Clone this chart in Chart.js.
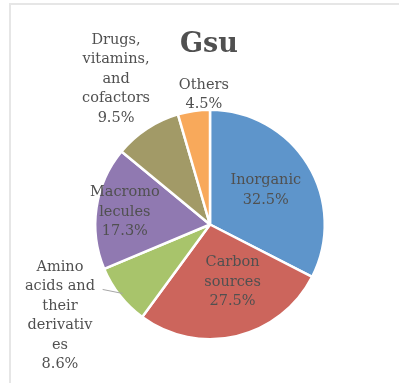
<!DOCTYPE html>
<html>
<head>
<meta charset="utf-8">
<script src="https://cdn.jsdelivr.net/npm/chart.js@4"></script>
<style>
  html, body { margin: 0; padding: 0; background: #fff; }
  canvas { display: block; }
</style>
</head>
<body>
<canvas id="graficoGsu" width="399" height="383"></canvas>
<script>
// data
const categories = ['Inorganic', 'Carbon sources', 'Amino acids and their derivatives', 'Macromolecules', 'Drugs, vitamins, and cofactors', 'Others'];
const shares = [32.5, 27.5, 8.6, 17.3, 9.5, 4.5];
const sliceColors = ['#5e95cb', '#cc655c', '#a8c46b', '#9079b1', '#a29a67', '#f8a95b'];

// how the data labels wrap and where they sit (r = fraction of radius, a = angle nudge in degrees)
const labelLines = [
    ['Inorganic'],
    ['Carbon', 'sources'],
    ['Amino', 'acids and', 'their', 'derivativ', 'es'],
    ['Macromo', 'lecules'],
    ['Drugs,', 'vitamins,', 'and', 'cofactors'],
    ['Others']
];
const labelPlace = [
    { r: 0.57, a: 0 },
    { r: 0.54, a: -8 },
    { r: 1.53, a: 7 },
    { r: 0.75, a: 0 },
    { r: 1.51, a: 0.5 },
    { r: 1.13, a: 5.4 }
];

const textColor = '#505050';
const labelFont = '14.5px "DejaVu Serif"';
const lineGap = 19.5;

const labelsPlugin = {
    id: 'pieLabels',
    beforeDraw(chart) {
        const ctx = chart.ctx;
        ctx.save();
        ctx.fillStyle = '#e6e6e6';
        ctx.fillRect(9, 3, 390, 2);
        ctx.fillRect(9, 3, 2, 380);
        ctx.restore();
    },
    afterDraw(chart) {
        const ctx = chart.ctx;
        const meta = chart.getDatasetMeta(0);
        ctx.save();

        // title
        ctx.fillStyle = textColor;
        ctx.font = 'bold 27px "DejaVu Serif"';
        ctx.textAlign = 'center';
        ctx.textBaseline = 'middle';
        ctx.fillText('Gsu', 209, 45);

        ctx.font = labelFont;
        meta.data.forEach((arc, i) => {
            const p = arc.getProps(['x', 'y', 'startAngle', 'endAngle', 'outerRadius'], true);
            const mid = (p.startAngle + p.endAngle) / 2;
            const ang = mid + labelPlace[i].a * Math.PI / 180;
            const dist = p.outerRadius * labelPlace[i].r;
            const cx = p.x + Math.cos(ang) * dist;
            const cy = p.y + Math.sin(ang) * dist;
            const lines = labelLines[i].concat([shares[i].toFixed(1) + '%']);
            const top = cy - (lines.length - 1) * lineGap / 2;

            if (i === 2) {
                // leader line for the label that sits away from its slice
                const sx = p.x + Math.cos(mid) * p.outerRadius * 0.97;
                const sy = p.y + Math.sin(mid) * p.outerRadius * 0.97;
                ctx.strokeStyle = '#a6a6a6';
                ctx.lineWidth = 1;
                ctx.beginPath();
                ctx.moveTo(sx, sy);
                ctx.lineTo(sx - 20, sy - 4);
                ctx.stroke();
            }

            ctx.fillStyle = textColor;
            lines.forEach((t, k) => {
                ctx.fillText(t, cx, top + k * lineGap);
            });
        });
        ctx.restore();
    }
};

const dataPie = {
    labels: categories,
    datasets: [{
        data: shares,
        backgroundColor: sliceColors,
        borderColor: '#ffffff',
        borderWidth: 2.5
    }]
};

const configPie = {
    type: 'pie',
    data: dataPie,
    options: {
        responsive: false,
        animation: false,
        layout: {
            padding: { left: 94, right: 73, top: 108, bottom: 42 }
        },
        plugins: {
            legend: { display: false },
            tooltip: { enabled: false },
            title: { display: false }
        }
    },
    plugins: [labelsPlugin]
};

const pizza = new Chart(document.getElementById('graficoGsu'), configPie);
</script>
</body>
</html>
